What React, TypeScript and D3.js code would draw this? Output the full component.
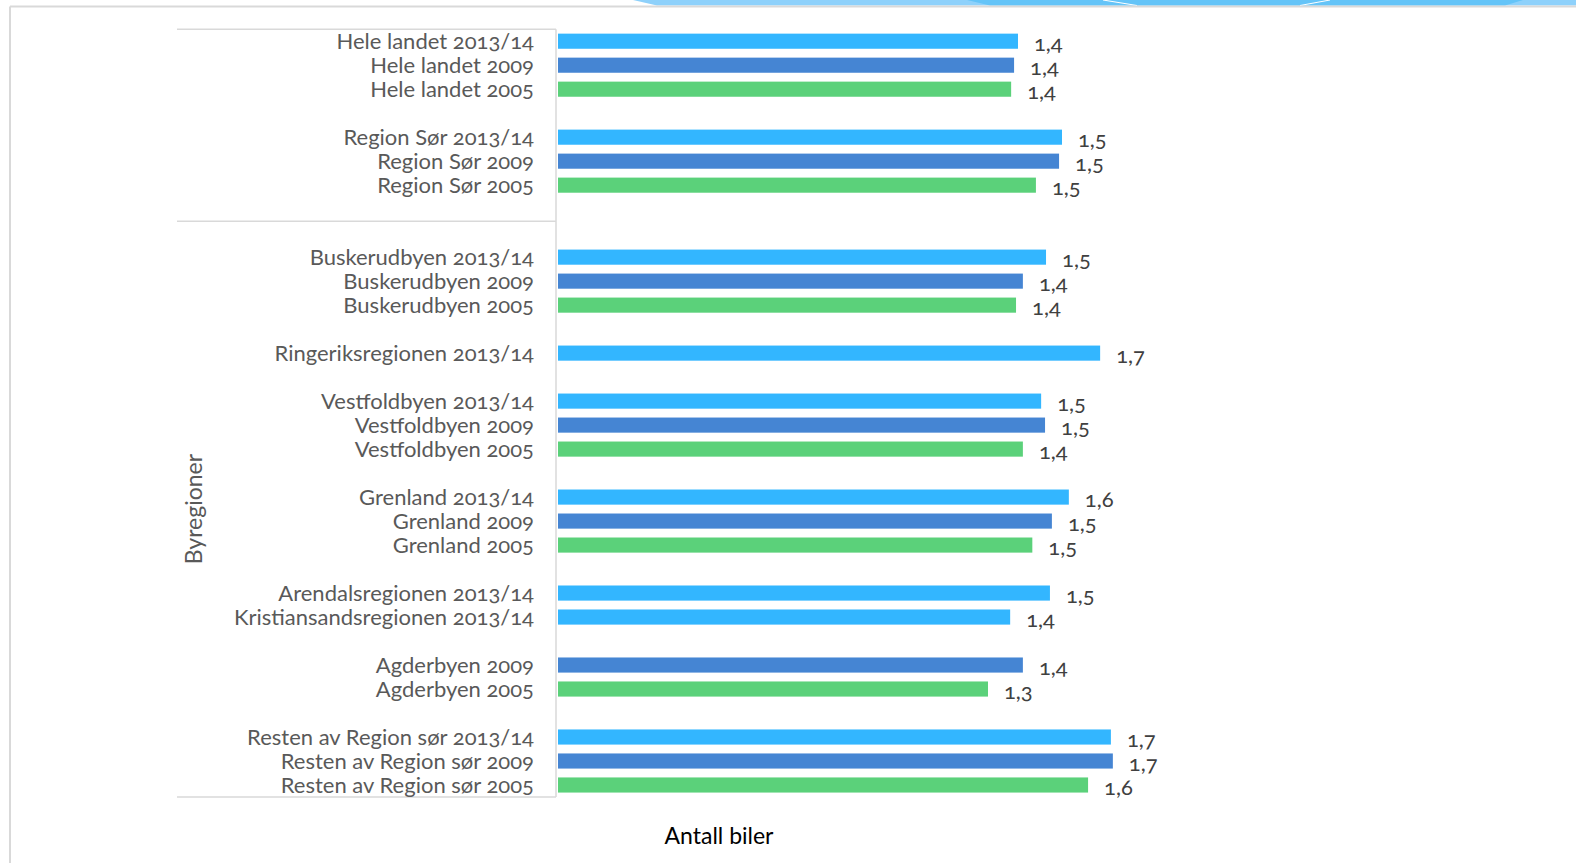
import React from "react";
import * as d3 from "d3";

const categories: string[] = [
  "Hele landet 2013/14", "Hele landet 2009", "Hele landet 2005", "",
  "Region Sør 2013/14", "Region Sør 2009", "Region Sør 2005", "", "",
  "Buskerudbyen 2013/14", "Buskerudbyen 2009", "Buskerudbyen 2005", "",
  "Ringeriksregionen 2013/14", "",
  "Vestfoldbyen 2013/14", "Vestfoldbyen 2009", "Vestfoldbyen 2005", "",
  "Grenland 2013/14", "Grenland 2009", "Grenland 2005", "",
  "Arendalsregionen 2013/14", "Kristiansandsregionen 2013/14", "",
  "Agderbyen 2009", "Agderbyen 2005", "",
  "Resten av Region sør 2013/14", "Resten av Region sør 2009", "Resten av Region sør 2005",
];

const values: (number | null)[] = [
  1.411, 1.399, 1.39, null,
  1.546, 1.537, 1.466, null, null,
  1.497, 1.426, 1.405, null,
  1.663, null,
  1.482, 1.494, 1.426, null,
  1.567, 1.515, 1.455, null,
  1.509, 1.387, null,
  1.426, 1.319, null,
  1.696, 1.702, 1.626,
];

const periods: (string | null)[] = [
  "2013/14", "2009", "2005", null,
  "2013/14", "2009", "2005", null, null,
  "2013/14", "2009", "2005", null,
  "2013/14", null,
  "2013/14", "2009", "2005", null,
  "2013/14", "2009", "2005", null,
  "2013/14", "2013/14", null,
  "2009", "2005", null,
  "2013/14", "2009", "2005",
];

const groups = [
  { name: "", start: 0, end: 8 },
  { name: "Byregioner", start: 8, end: 32 },
];

const periodColors: Record<string, string> = {
  "2013/14": "#33b6ff",
  "2009": "#4585d3",
  "2005": "#5bd17a",
};

const xAxisTitle = "Antall biler";

const W = 1576;
const H = 863;

export default function App() {
  const x = d3.scaleLinear().domain([0, 2.5]).range([558, 558 + 2.5 * 326]);
  const y = d3
    .scaleBand<number>()
    .domain(d3.range(categories.length))
    .range([29.2, 797])
    .paddingInner(0.37)
    .paddingOuter(0.185);
  const step = y.step();
  const top = 29.2;
  const fmt = (v: number) => d3.format(".1f")(v).replace(".", ",");
  const font = "Lato, 'Open Sans', sans-serif";
  const lineColor = "#d9d9d9";
  const boxLeft = 177;
  const boxRight = 556;

  return (
    <svg
      width={W}
      height={H}
      style={{ position: "absolute", left: 0, top: 0, background: "#fff" }}
      fontFamily={font}
    >
      {/* decorative top band */}
      <polygon points="633,0 1576,0 1576,5.5 657,5.5" fill="#8ed1fb" />
      <polygon points="967,0 1523,0 1505,5.5 990,5.5" fill="#64c4f8" />
      <line x1={1103} y1={0} x2={1137} y2={5.5} stroke="#ffffff" strokeWidth={1} />
      <line x1={1330} y1={0} x2={1300} y2={5.5} stroke="#ffffff" strokeWidth={1} />
      {/* frame */}
      <line x1={10} y1={6.5} x2={W} y2={6.5} stroke={lineColor} strokeWidth={2} />
      <line x1={10} y1={6.5} x2={10} y2={H} stroke={lineColor} strokeWidth={2} />

      {/* category group box lines */}
      <line x1={boxRight} y1={top} x2={boxRight} y2={797} stroke={lineColor} strokeWidth={1.5} />
      {groups.map((g, i) => (
        <line
          key={"gt" + i}
          x1={boxLeft}
          x2={boxRight}
          y1={top + g.start * step}
          y2={top + g.start * step}
          stroke={lineColor}
          strokeWidth={1.5}
        />
      ))}
      <line x1={boxLeft} x2={boxRight} y1={797} y2={797} stroke={lineColor} strokeWidth={1.5} />

      {/* group labels */}
      {groups.map((g, i) => {
        const cy = top + ((g.start + g.end) / 2) * step;
        return g.name ? (
          <text
            key={"gl" + i}
            transform={`translate(194,${cy}) rotate(-90)`}
            textAnchor="middle"
            dy="0.35em"
            fontSize={23}
            fill="#595959"
          >
            {g.name}
          </text>
        ) : null;
      })}

      {/* category labels */}
      {categories.map((c, i) =>
        c ? (
          <text
            key={"c" + i}
            x={534}
            y={(y(i) as number) + y.bandwidth() / 2}
            dy="0.36em"
            textAnchor="end"
            fontSize={22}
            fill="#595959"
            style={{ fontVariantNumeric: "oldstyle-nums" }}
          >
            {c}
          </text>
        ) : null
      )}

      {/* bars */}
      {values.map((v, i) =>
        v != null ? (
          <rect
            key={"b" + i}
            x={x(0)}
            y={y(i) as number}
            width={x(v) - x(0)}
            height={y.bandwidth()}
            fill={periodColors[periods[i] as string]}
          />
        ) : null
      )}

      {/* value labels */}
      {values.map((v, i) =>
        v != null ? (
          <text
            key={"v" + i}
            x={x(v) + 16}
            y={(y(i) as number) + y.bandwidth() / 2 + 2}
            dy="0.36em"
            fontSize={22}
            fill="#404040"
            style={{ fontVariantNumeric: "oldstyle-nums" }}
          >
            {fmt(v)}
          </text>
        ) : null
      )}

      {/* x axis title */}
      <text x={719} y={836} dy="0.35em" textAnchor="middle" fontSize={23} fill="#000">
        {xAxisTitle}
      </text>
    </svg>
  );
}
